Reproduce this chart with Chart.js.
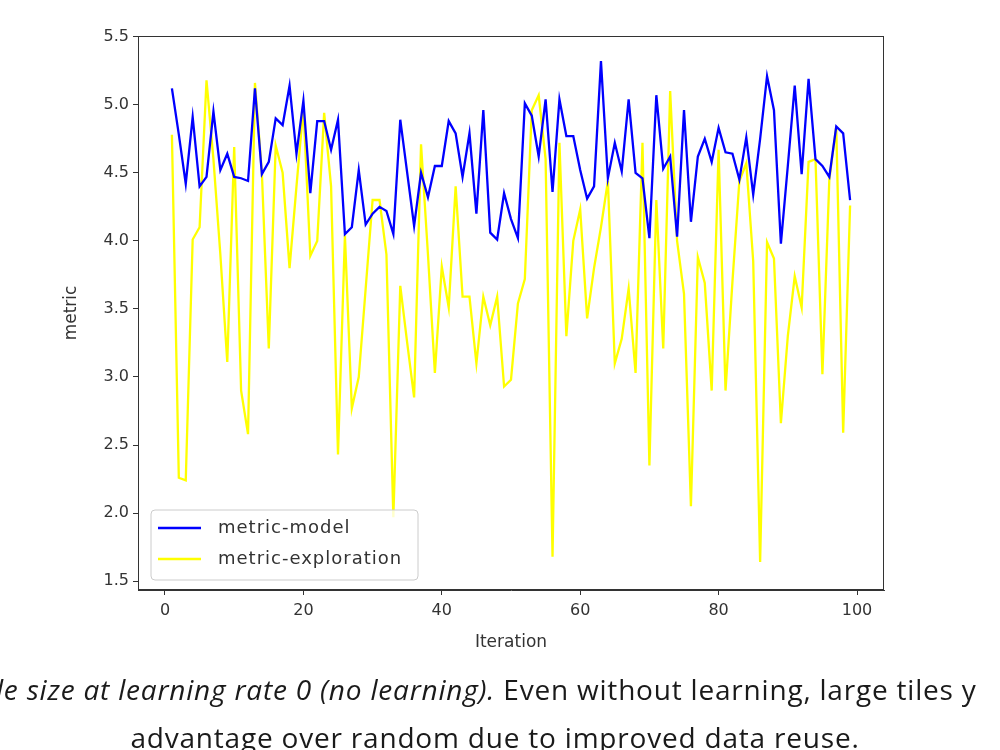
<!DOCTYPE html>
<html lang="en">
<head>
<meta charset="utf-8">
<title>metric vs Iteration</title>
<script src="https://cdn.jsdelivr.net/npm/chart.js@4.4.1/dist/chart.umd.min.js"></script>
<style>
    html, body { margin: 0; padding: 0; background: #fff; }
    #wrap { position: relative; width: 1000px; height: 750px; overflow: hidden; }
    #c { position: absolute; left: 0; top: 0; }
    .cap { position: absolute; white-space: nowrap; font-family: "Open Sans", Lato, sans-serif; font-size: 28px; color: #1a1a1a; line-height: 36px; letter-spacing: 0.8px; }
</style>
</head>
<body>
<div id="wrap">
    <canvas id="c" width="1000" height="750"></canvas>
    <div class="cap" style="left:-4px; top:671px;"><i>le size at learning rate 0 (no learning).</i> Even without learning, large tiles y</div>
    <div class="cap" style="left:0; width:990px; text-align:center; top:719px;">advantage over random due to improved data reuse.</div>
</div>
<script>
var iterations = [1, 2, 3, 4, 5, 6, 7, 8, 9, 10, 11, 12, 13, 14, 15, 16, 17, 18, 19, 20,
    21, 22, 23, 24, 25, 26, 27, 28, 29, 30, 31, 32, 33, 34, 35, 36, 37, 38, 39, 40,
    41, 42, 43, 44, 45, 46, 47, 48, 49, 50, 51, 52, 53, 54, 55, 56, 57, 58, 59, 60,
    61, 62, 63, 64, 65, 66, 67, 68, 69, 70, 71, 72, 73, 74, 75, 76, 77, 78, 79, 80,
    81, 82, 83, 84, 85, 86, 87, 88, 89, 90, 91, 92, 93, 94, 95, 96, 97, 98, 99];

var metricModel = [5.12, 4.78, 4.42, 4.91, 4.40, 4.47, 4.95, 4.52, 4.64, 4.47,
    4.46, 4.44, 5.12, 4.49, 4.58, 4.90, 4.85, 5.14, 4.64, 5.03,
    4.35, 4.88, 4.88, 4.67, 4.89, 4.05, 4.10, 4.52, 4.12, 4.20,
    4.25, 4.22, 4.05, 4.89, 4.50, 4.11, 4.50, 4.32, 4.55, 4.55,
    4.88, 4.79, 4.47, 4.79, 4.20, 4.96, 4.06, 4.01, 4.35, 4.16,
    4.02, 5.01, 4.92, 4.62, 5.04, 4.36, 5.04, 4.77, 4.77, 4.52,
    4.31, 4.40, 5.32, 4.46, 4.72, 4.51, 5.04, 4.50, 4.46, 4.02,
    5.07, 4.53, 4.62, 4.03, 4.96, 4.14, 4.62, 4.75, 4.58, 4.83,
    4.65, 4.64, 4.45, 4.76, 4.34, 4.75, 5.21, 4.96, 3.98, 4.55,
    5.14, 4.49, 5.19, 4.60, 4.55, 4.47, 4.84, 4.79, 4.30];

var metricExploration = [4.78, 2.26, 2.24, 4.01, 4.10, 5.18, 4.60, 3.90, 3.11, 4.69,
    2.90, 2.58, 5.16, 4.50, 3.21, 4.70, 4.50, 3.80, 4.40, 4.98,
    3.89, 4.00, 4.94, 4.40, 2.43, 4.04, 2.77, 3.00, 3.65, 4.30,
    4.30, 3.90, 1.97, 3.67, 3.25, 2.85, 4.71, 3.90, 3.03, 3.81,
    3.51, 4.40, 3.59, 3.59, 3.10, 3.59, 3.38, 3.59, 2.93, 2.98,
    3.54, 3.72, 4.96, 5.07, 4.60, 1.68, 4.72, 3.30, 4.00, 4.23,
    3.43, 3.80, 4.10, 4.44, 3.10, 3.28, 3.65, 3.03, 4.72, 2.35,
    4.30, 3.21, 5.10, 4.00, 3.61, 2.05, 3.88, 3.69, 2.90, 4.67,
    2.90, 3.70, 4.44, 4.57, 3.85, 1.64, 3.99, 3.87, 2.66, 3.30,
    3.74, 3.51, 4.58, 4.60, 3.02, 4.45, 4.84, 2.59, 4.26];

var seriesNames = ['metric-model', 'metric-exploration'];
var seriesColors = ['#0000ff', '#ffff00'];
var yTicks = [1.5, 2.0, 2.5, 3.0, 3.5, 4.0, 4.5, 5.0, 5.5];
var xTicks = [0, 20, 40, 60, 80, 100];

function points(ys) {
    var out = [];
    for (var i = 0; i < ys.length; i++) out.push({ x: iterations[i], y: ys[i] });
    return out;
}

var axisColor = '#333';
var tickFont = { family: 'DejaVu Sans', size: 16 };
var labelFont = { family: 'DejaVu Sans', size: 17 };

// frame round the plot + matplotlib-like legend in the lower left corner
var framePlugin = {
    id: 'frame',
    afterDraw: function(chart) {
        var ctx = chart.ctx, a = chart.chartArea;
        ctx.save();
        ctx.strokeStyle = axisColor;
        ctx.lineWidth = 1;
        ctx.strokeRect(a.left + 0.5, a.top + 0.5, a.width - 1, a.height - 1);

        var bx = a.left + 13, by = a.bottom - 80, bw = 267, bh = 70;
        ctx.beginPath();
        ctx.roundRect(bx, by, bw, bh, 4);
        ctx.fillStyle = 'rgba(255,255,255,0.8)';
        ctx.fill();
        ctx.strokeStyle = '#cccccc';
        ctx.stroke();

        ctx.font = '18px "DejaVu Sans"';
        ctx.letterSpacing = '1px';
        ctx.textBaseline = 'middle';
        for (var i = 0; i < seriesNames.length; i++) {
            var ly = by + 18 + i * 31;
            ctx.beginPath();
            ctx.moveTo(bx + 7, ly);
            ctx.lineTo(bx + 50, ly);
            ctx.strokeStyle = seriesColors[i];
            ctx.lineWidth = 2.5;
            ctx.stroke();
            ctx.fillStyle = axisColor;
            ctx.fillText(seriesNames[i], bx + 67, ly);
        }
        ctx.restore();
    }
};

new Chart(document.getElementById('c'), {
    type: 'line',
    data: {
        datasets: [{
            label: seriesNames[0],
            data: points(metricModel),
            borderColor: seriesColors[0],
            borderWidth: 2.3,
            pointRadius: 0,
            tension: 0
        }, {
            label: seriesNames[1],
            data: points(metricExploration),
            borderColor: seriesColors[1],
            borderWidth: 2.3,
            pointRadius: 0,
            tension: 0
        }]
    },
    options: {
        responsive: false,
        animation: false,
        devicePixelRatio: 1,
        layout: { padding: { left: 58, right: 116, top: 36, bottom: 97 } },
        plugins: { legend: { display: false }, tooltip: { enabled: false } },
        scales: {
            x: {
                type: 'linear',
                min: -3.9,
                max: 103.9,
                afterBuildTicks: function(s) { s.ticks = xTicks.map(function(v) { return { value: v }; }); },
                afterFit: function(s) { s.height = 63; },
                ticks: { color: axisColor, font: tickFont, padding: 6, maxRotation: 0, autoSkip: false },
                grid: { drawOnChartArea: false, tickLength: 5, tickColor: axisColor },
                border: { color: axisColor },
                title: { display: true, text: 'Iteration', color: axisColor, font: labelFont, padding: { top: 4, bottom: 0 } }
            },
            y: {
                type: 'linear',
                min: 1.435,
                max: 5.505,
                afterBuildTicks: function(s) { s.ticks = yTicks.map(function(v) { return { value: v }; }); },
                afterFit: function(s) { s.width = 80; },
                ticks: { color: axisColor, font: tickFont, padding: 4, callback: function(v) { return v.toFixed(1); } },
                grid: { drawOnChartArea: false, tickLength: 5, tickColor: axisColor },
                border: { color: axisColor },
                title: { display: true, text: 'metric', color: axisColor, font: labelFont, padding: { top: 3, bottom: 0 } }
            }
        }
    },
    plugins: [framePlugin]
});
</script>
</body>
</html>
